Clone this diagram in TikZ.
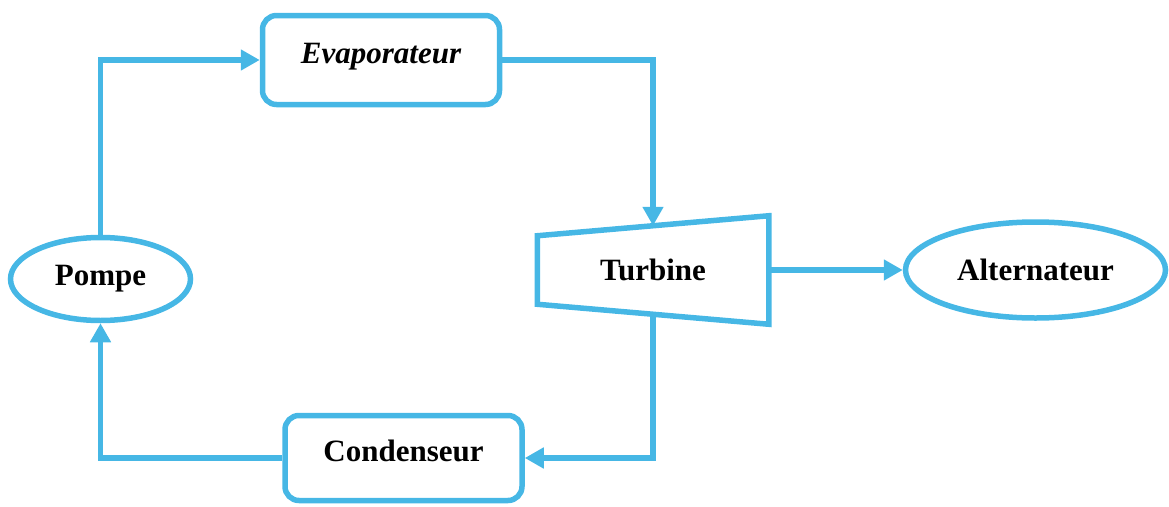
\documentclass[tikz,border=0pt]{standalone}
\usepackage{fontspec}
\setmainfont{Liberation Serif}
\usetikzlibrary{arrows.meta,shapes.geometric,calc}
\definecolor{bleu}{RGB}{70,183,229}
\begin{document}
\begin{tikzpicture}[x=1pt, y=-1pt, line width=5.5pt,
		every node/.style={font=\fontsize{31}{36}\selectfont\bfseries, inner sep=0pt},
		bloc/.style={draw=bleu, rounded corners=14pt, minimum width=237pt, text height=24pt, text depth=17pt},
		rond/.style={draw=bleu, ellipse},
		fleche/.style={draw=bleu, -{Triangle[length=19pt, width=20pt]}}]
	\useasboundingbox (0,0) rectangle (1169,506);
	
	%composants
	\node[bloc, minimum height=89pt] (evap) at (381,60){\itshape Evaporateur};
	\node[bloc, minimum height=85pt] (cond) at (403.5,458){Condenseur};
	\node[rond, minimum width=180pt, minimum height=83pt] (pompe) at (100.5,279){Pompe};
	\node[rond, minimum width=260pt, minimum height=96pt] (alt) at (1035.5,270){Alternateur};
	\node[minimum width=226pt, minimum height=103pt] (turb) at (653,270){Turbine};
	
	%turbine
	\coordinate (t1) at ([yshift=-20pt]turb.north west);
	\coordinate (t2) at (turb.north east);
	\coordinate (t3) at (turb.south east);
	\coordinate (t4) at ([yshift=20pt]turb.south west);
	\draw[bleu] (t1) -- (t2) -- (t3) -- (t4) -- cycle;
	\coordinate (entree) at ($(t1)!0.5!(t2)$);
	\coordinate (sortie) at ($(t4)!0.5!(t3)$);
	
	%circuit
	\draw[fleche] (pompe.north) |- (evap.west);
	\draw[fleche] (evap.east) -| (entree);
	\draw[fleche] (sortie) |- (cond.east);
	\draw[fleche] (cond.west) -| (pompe.south);
	\draw[fleche] (turb.east) -- (alt.west);
\end{tikzpicture}
\end{document}
